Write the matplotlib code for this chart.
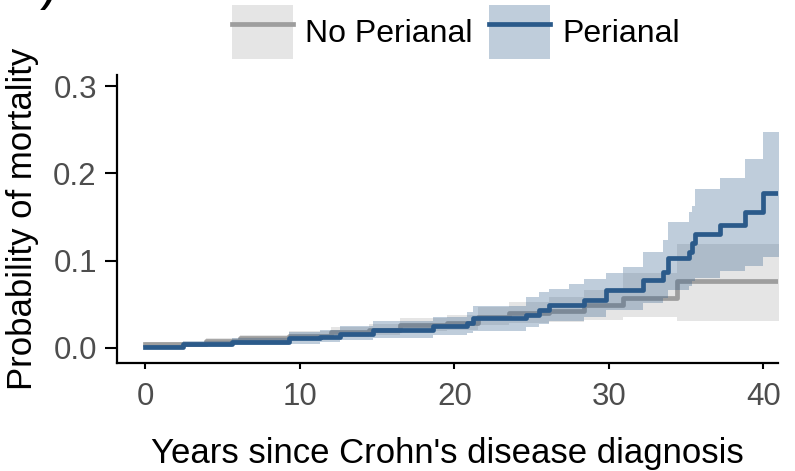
import matplotlib
matplotlib.use("Agg")
import matplotlib.pyplot as plt
from matplotlib.patches import Patch
from matplotlib.lines import Line2D
from matplotlib.legend_handler import HandlerTuple
import numpy as np

# ---------------- data ----------------
series_names = ["No Perianal", "Perianal"]
end_time = 41.0

# Perianal (blue)
t_p = [0, 2.4, 5.6, 9.3, 11.3, 12.6, 14.7, 18.6, 20.8, 21.2, 24.6, 25.5, 26.1, 27.4,
       28.4, 29.8, 30.9, 32.2, 33.5, 33.8, 35.2, 35.4, 35.6, 37.2, 38.8, 40.0]
est_p = [0.001, 0.004, 0.007, 0.011, 0.013, 0.016, 0.021, 0.025, 0.029, 0.034, 0.038,
         0.044, 0.049, 0.049, 0.055, 0.066, 0.066, 0.078, 0.087, 0.103, 0.110, 0.120,
         0.130, 0.141, 0.156, 0.178]
lo_p = [0.000, 0.001, 0.003, 0.005, 0.007, 0.009, 0.012, 0.015, 0.017, 0.020, 0.024,
        0.027, 0.031, 0.031, 0.035, 0.043, 0.043, 0.051, 0.057, 0.066, 0.071, 0.077,
        0.080, 0.088, 0.094, 0.104]
hi_p = [0.003, 0.008, 0.012, 0.018, 0.021, 0.025, 0.031, 0.036, 0.041, 0.048, 0.058,
        0.064, 0.067, 0.073, 0.079, 0.086, 0.093, 0.110, 0.124, 0.144, 0.156, 0.163,
        0.182, 0.195, 0.216, 0.247]

# No Perianal (grey)
t_n = [0, 3.9, 6.1, 9.3, 12.0, 14.5, 16.5, 19.5, 21.5, 23.5, 26.1, 28.4, 30.9, 34.4]
est_n = [0.004, 0.008, 0.011, 0.014, 0.018, 0.021, 0.026, 0.029, 0.036, 0.040, 0.042,
         0.049, 0.057, 0.077]
lo_n = [0.002, 0.005, 0.008, 0.010, 0.013, 0.015, 0.019, 0.021, 0.026, 0.029, 0.030,
        0.032, 0.035, 0.031]
hi_n = [0.007, 0.012, 0.015, 0.019, 0.024, 0.028, 0.034, 0.038, 0.047, 0.053, 0.058,
        0.066, 0.086, 0.119]

x_ticks = [0, 10, 20, 30, 40]
y_ticks = [0.0, 0.1, 0.2, 0.3]
y_tick_labels = ["0.0", "0.1", "0.2", "0.3"]
x_title = "Years since Crohn's disease diagnosis"
y_title = "Probability of mortality"

# ---------------- style ----------------
plt.rcParams["font.family"] = ["Liberation Sans", "DejaVu Sans"]
grey_line = "#9E9E9E"
grey_fill = "#999999"
blue_line = "#2B5A8A"
blue_fill = "#2E5B8A"
tick_col = "#4D4D4D"
LW = 3.4

W, H = 795, 471
fig = plt.figure(figsize=(W / 100, H / 100), dpi=100)
ax = fig.add_axes([117 / W, 1 - 363 / H, (778 - 117) / W, (363 - 75) / H])


def ext(t, v):
    return list(t) + [end_time], list(v) + [v[-1]]


tn, en = ext(t_n, est_n)
_, ln = ext(t_n, lo_n)
_, hn = ext(t_n, hi_n)
tp, ep = ext(t_p, est_p)
_, lp = ext(t_p, lo_p)
_, hp = ext(t_p, hi_p)

ax.fill_between(tn, ln, hn, step="post", color=grey_fill, alpha=0.25, lw=0, zorder=1)
ax.step(tn, en, where="post", color=grey_line, lw=LW, zorder=2)
ax.fill_between(tp, lp, hp, step="post", color=blue_fill, alpha=0.3, lw=0, zorder=3)
ax.step(tp, ep, where="post", color=blue_line, lw=LW, zorder=4)

ax.set_xlim(-1.84, 40.94)
ax.set_ylim(-0.0172, 0.3126)
ax.set_xticks(x_ticks)
ax.set_yticks(y_ticks)
ax.set_yticklabels(y_tick_labels)

for s in ["top", "right"]:
    ax.spines[s].set_visible(False)
for s in ["left", "bottom"]:
    ax.spines[s].set_linewidth(1.6)
    ax.spines[s].set_color("black")

ax.tick_params(axis="y", length=8.5, width=1.5, color="black", labelsize=22.5,
               labelcolor=tick_col, pad=6)
ax.tick_params(axis="x", length=4.5, width=1.5, color="black", labelsize=22.5,
               labelcolor=tick_col, pad=9)

ax.set_xlabel(x_title, fontsize=25, color="black", labelpad=18)
ax.set_ylabel(y_title, fontsize=25, color="black", labelpad=10)

# legend
h_grey = (Patch(facecolor=grey_fill, alpha=0.25, edgecolor="none"),
          Line2D([0.1, 0.9], [0.5, 0.5], color=grey_line, lw=LW))
h_blue = (Patch(facecolor=blue_fill, alpha=0.3, edgecolor="none"),
          Line2D([0.1, 0.9], [0.5, 0.5], color=blue_line, lw=LW))
fig.legend([h_grey, h_blue], series_names,
           handler_map={tuple: HandlerTuple(ndivide=1, pad=0)},
           loc="center", bbox_to_anchor=(456 / W, 1 - 32 / H), ncol=2, frameon=False,
           fontsize=23, handlelength=1.9, handleheight=2.2, handletextpad=0.4,
           columnspacing=0.5, borderpad=0, borderaxespad=0)

# cut-off panel label at the very top-left
fig.text(4 / W, 1 + 2 / H, "B)", fontsize=40, ha="left", va="baseline", color="black")

fig.savefig("out.png", dpi=100)
